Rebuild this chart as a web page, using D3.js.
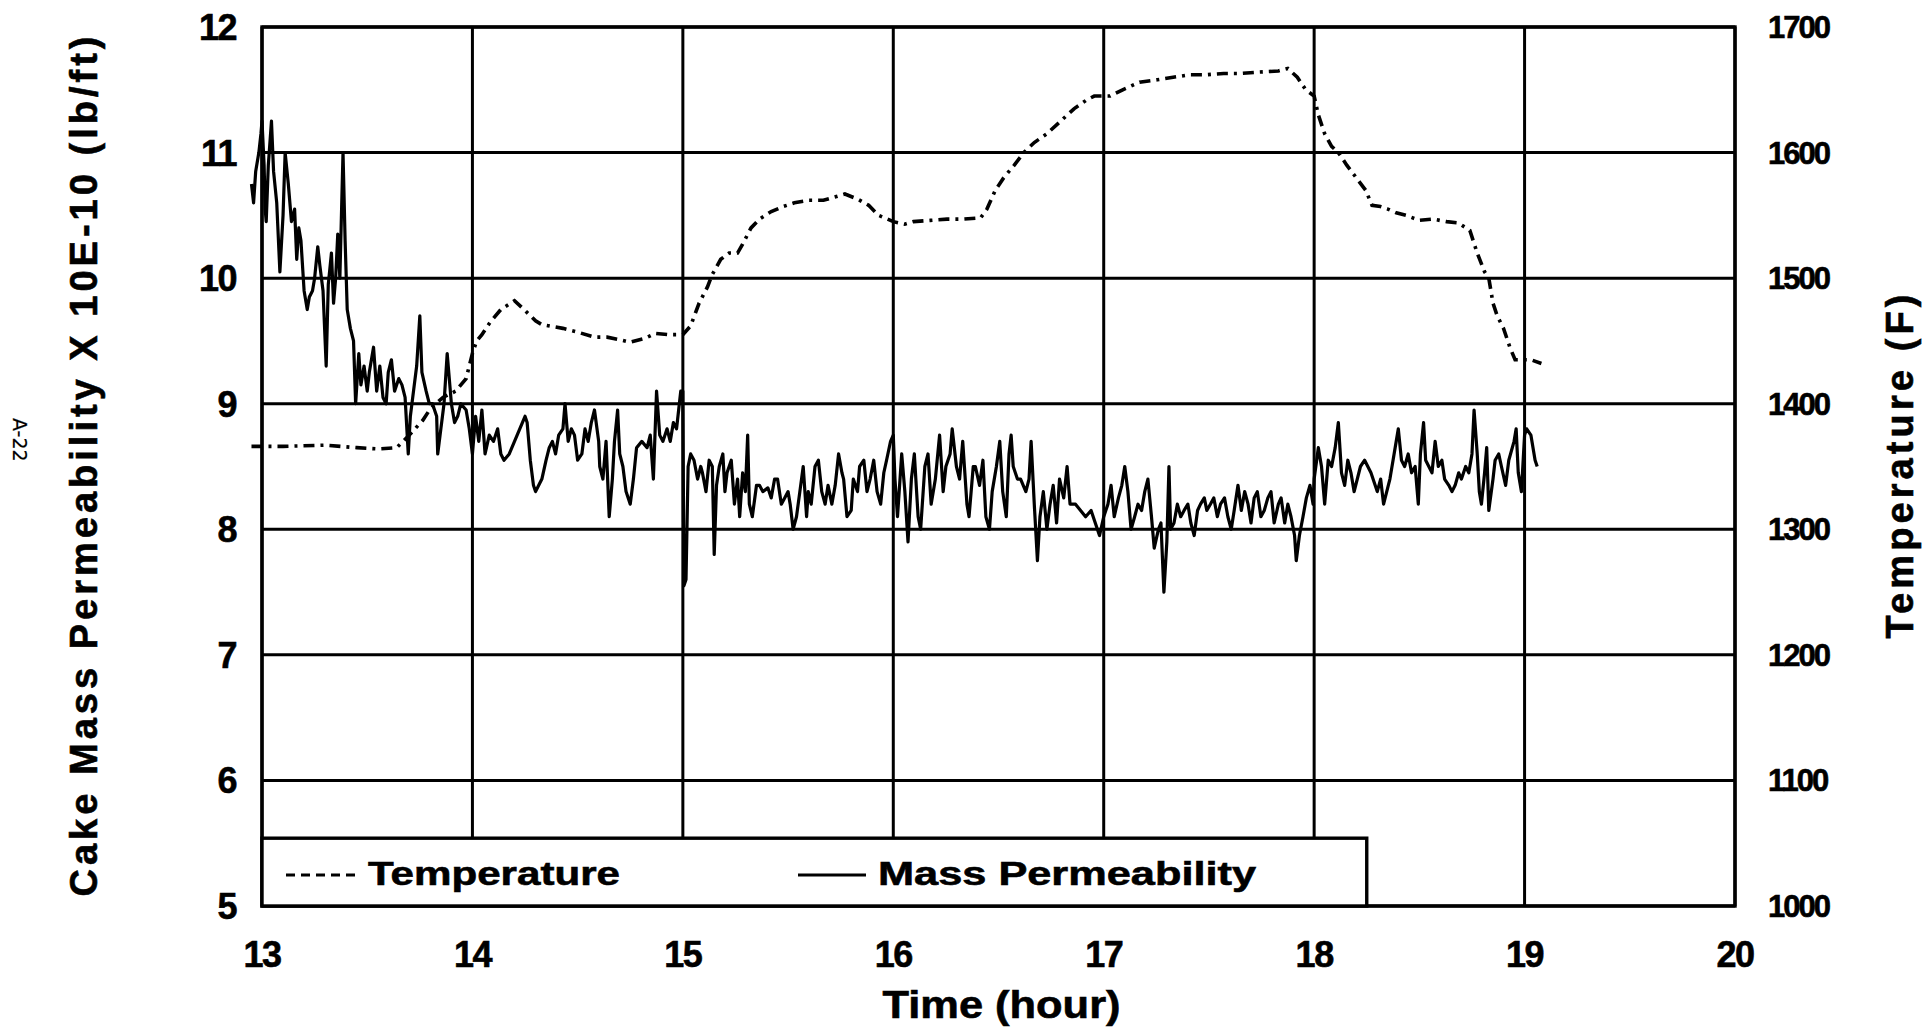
<!DOCTYPE html>
<html>
<head>
<meta charset="utf-8">
<script src="https://cdn.jsdelivr.net/npm/d3@7"></script>
<style>
    body { margin: 0; background: #fff; }
    text { font-family: "Liberation Sans", Arial, sans-serif; font-weight: bold; fill: #000; stroke: #000; stroke-width: 0.6px; }
</style>
</head>
<body>
<div id="chart"></div>
<script>
// axis ticks
var hourTicks = [13, 14, 15, 16, 17, 18, 19, 20];
var permTicks = [5, 6, 7, 8, 9, 10, 11, 12];
var tempTicks = [1000, 1100, 1200, 1300, 1400, 1500, 1600, 1700];

// temperature (F) vs time (hour)
var tempData = [
    [12.95, 1366], [13.1, 1366], [13.3, 1367], [13.45, 1365], [13.55, 1364], [13.64, 1365],
    [13.7, 1375], [13.765, 1387], [13.8, 1396], [13.86, 1405], [13.92, 1410], [13.97, 1420],
    [14.0, 1440], [14.02, 1450], [14.045, 1455], [14.085, 1465], [14.135, 1475], [14.2, 1482],
    [14.245, 1475], [14.3, 1466], [14.33, 1463], [14.43, 1460], [14.5, 1457], [14.58, 1453],
    [14.64, 1453], [14.7, 1451], [14.75, 1449], [14.82, 1452], [14.87, 1456], [14.93, 1455],
    [15.0, 1455], [15.037, 1462], [15.077, 1480], [15.117, 1493], [15.14, 1503], [15.18, 1515],
    [15.22, 1520], [15.26, 1520], [15.284, 1527], [15.324, 1540], [15.364, 1547], [15.42, 1553],
    [15.476, 1557], [15.53, 1560], [15.6, 1562], [15.668, 1562], [15.73, 1565], [15.77, 1567],
    [15.83, 1563], [15.883, 1558], [15.93, 1550], [16.0, 1545], [16.055, 1543], [16.095, 1545],
    [16.175, 1546], [16.255, 1547], [16.335, 1547], [16.415, 1548], [16.445, 1555], [16.485, 1570],
    [16.525, 1580], [16.575, 1590], [16.62, 1600], [16.67, 1608], [16.73, 1615], [16.795, 1625],
    [16.86, 1635], [16.92, 1642], [16.955, 1645], [17.0, 1645], [17.03, 1645], [17.09, 1650],
    [17.17, 1656], [17.255, 1658], [17.33, 1660], [17.41, 1662], [17.49, 1662], [17.57, 1663],
    [17.65, 1663], [17.73, 1664], [17.83, 1665], [17.875, 1667], [17.92, 1660], [17.96, 1650],
    [18.0, 1645], [18.02, 1630], [18.05, 1615], [18.083, 1605], [18.115, 1600], [18.155, 1590],
    [18.2, 1580], [18.245, 1570], [18.275, 1558], [18.315, 1557], [18.35, 1555], [18.39, 1552],
    [18.436, 1550], [18.5, 1546], [18.565, 1547], [18.63, 1545], [18.685, 1544], [18.74, 1538],
    [18.775, 1520], [18.81, 1505], [18.83, 1500], [18.85, 1480], [18.87, 1470], [18.9, 1460],
    [18.93, 1445], [18.955, 1435], [18.99, 1435], [19.03, 1435], [19.08, 1432]
];

// cake mass permeability (x 10E-10 lb/ft) vs time (hour)
var permData = [
    [12.95, 10.75], [12.96, 10.6], [12.97, 10.85], [12.985, 11.0], [12.995, 11.15], [13.0, 11.25],
    [13.01, 10.9], [13.015, 10.55], [13.02, 10.45], [13.03, 10.9], [13.045, 11.25], [13.055, 10.85],
    [13.07, 10.6], [13.085, 10.05], [13.1, 10.5], [13.11, 11.0], [13.125, 10.75], [13.14, 10.45],
    [13.155, 10.55], [13.165, 10.15], [13.175, 10.4], [13.185, 10.3], [13.2, 9.9], [13.215, 9.75],
    [13.225, 9.85], [13.24, 9.9], [13.25, 10.0], [13.265, 10.25], [13.275, 10.1], [13.29, 9.9],
    [13.305, 9.3], [13.315, 9.95], [13.33, 10.2], [13.34, 9.8], [13.35, 10.0], [13.36, 10.35],
    [13.37, 10.0], [13.385, 11.0], [13.395, 10.3], [13.405, 9.75], [13.42, 9.6], [13.435, 9.5],
    [13.445, 9.0], [13.46, 9.4], [13.47, 9.15], [13.485, 9.3], [13.5, 9.1], [13.51, 9.25],
    [13.53, 9.45], [13.545, 9.1], [13.56, 9.3], [13.575, 9.05], [13.59, 9.0], [13.6, 9.25],
    [13.615, 9.35], [13.63, 9.1], [13.65, 9.2], [13.665, 9.15], [13.68, 9.05], [13.695, 8.6],
    [13.705, 8.9], [13.72, 9.1], [13.735, 9.3], [13.75, 9.7], [13.76, 9.25], [13.78, 9.1],
    [13.795, 9.0], [13.81, 9.0], [13.83, 8.9], [13.835, 8.6], [13.85, 8.8], [13.865, 9.0],
    [13.88, 9.4], [13.9, 9.0], [13.915, 8.85], [13.93, 8.9], [13.945, 9.0], [13.97, 8.95],
    [13.985, 8.8], [14.0, 8.6], [14.015, 8.9], [14.03, 8.7], [14.045, 8.95], [14.06, 8.6],
    [14.08, 8.75], [14.1, 8.7], [14.12, 8.8], [14.135, 8.6], [14.15, 8.55], [14.175, 8.6],
    [14.2, 8.7], [14.225, 8.8], [14.25, 8.9], [14.26, 8.85], [14.275, 8.55], [14.29, 8.35],
    [14.3, 8.3], [14.315, 8.35], [14.33, 8.4], [14.35, 8.55], [14.365, 8.65], [14.38, 8.7],
    [14.395, 8.6], [14.41, 8.75], [14.43, 8.8], [14.44, 9.0], [14.455, 8.7], [14.47, 8.8],
    [14.485, 8.75], [14.5, 8.55], [14.52, 8.6], [14.535, 8.8], [14.55, 8.7], [14.565, 8.85],
    [14.58, 8.95], [14.6, 8.7], [14.605, 8.5], [14.62, 8.4], [14.635, 8.7], [14.65, 8.1],
    [14.665, 8.4], [14.675, 8.7], [14.69, 8.95], [14.7, 8.6], [14.715, 8.5], [14.73, 8.3],
    [14.75, 8.2], [14.765, 8.4], [14.78, 8.65], [14.805, 8.7], [14.83, 8.65], [14.845, 8.75],
    [14.86, 8.4], [14.875, 9.1], [14.89, 8.75], [14.905, 8.7], [14.925, 8.8], [14.94, 8.7],
    [14.955, 8.85], [14.97, 8.8], [14.98, 8.95], [14.99, 9.1], [15.0, 9.1], [15.005, 7.55],
    [15.015, 7.6], [15.025, 8.5], [15.037, 8.6], [15.053, 8.55], [15.07, 8.4], [15.085, 8.5],
    [15.093, 8.45], [15.11, 8.3], [15.125, 8.55], [15.14, 8.5], [15.149, 7.8], [15.16, 8.35],
    [15.173, 8.5], [15.19, 8.6], [15.2, 8.3], [15.21, 8.45], [15.23, 8.55], [15.245, 8.2],
    [15.26, 8.4], [15.27, 8.1], [15.284, 8.45], [15.297, 8.3], [15.308, 8.75], [15.316, 8.2],
    [15.33, 8.1], [15.35, 8.35], [15.364, 8.35], [15.38, 8.3], [15.404, 8.33], [15.42, 8.25],
    [15.436, 8.4], [15.45, 8.4], [15.468, 8.2], [15.484, 8.25], [15.5, 8.3], [15.51, 8.2],
    [15.524, 8.0], [15.54, 8.1], [15.556, 8.3], [15.572, 8.5], [15.588, 8.1], [15.596, 8.3],
    [15.61, 8.2], [15.628, 8.5], [15.644, 8.55], [15.66, 8.3], [15.676, 8.2], [15.69, 8.35],
    [15.708, 8.2], [15.724, 8.35], [15.74, 8.6], [15.756, 8.45], [15.764, 8.4], [15.78, 8.1],
    [15.8, 8.15], [15.81, 8.4], [15.83, 8.3], [15.84, 8.5], [15.86, 8.55], [15.875, 8.3],
    [15.89, 8.4], [15.907, 8.55], [15.923, 8.3], [15.94, 8.2], [15.955, 8.45], [15.968, 8.55],
    [15.987, 8.7], [16.0, 8.75], [16.008, 8.4], [16.02, 8.1], [16.04, 8.6], [16.055, 8.3],
    [16.07, 7.9], [16.086, 8.4], [16.1, 8.6], [16.118, 8.1], [16.13, 8.0], [16.15, 8.5],
    [16.165, 8.6], [16.18, 8.2], [16.2, 8.4], [16.22, 8.75], [16.237, 8.3], [16.25, 8.5],
    [16.27, 8.6], [16.28, 8.8], [16.3, 8.5], [16.315, 8.4], [16.33, 8.7], [16.35, 8.2],
    [16.36, 8.1], [16.38, 8.5], [16.39, 8.5], [16.41, 8.35], [16.426, 8.55], [16.44, 8.1],
    [16.457, 8.0], [16.47, 8.3], [16.49, 8.5], [16.506, 8.7], [16.52, 8.3], [16.537, 8.1],
    [16.55, 8.6], [16.56, 8.75], [16.57, 8.5], [16.59, 8.4], [16.605, 8.4], [16.63, 8.3],
    [16.645, 8.4], [16.655, 8.7], [16.67, 8.2], [16.685, 7.75], [16.697, 8.1], [16.713, 8.3],
    [16.73, 8.0], [16.745, 8.2], [16.76, 8.35], [16.776, 8.05], [16.79, 8.4], [16.81, 8.25],
    [16.826, 8.5], [16.84, 8.2], [16.866, 8.2], [16.89, 8.15], [16.914, 8.1], [16.94, 8.15],
    [16.96, 8.05], [16.98, 7.95], [17.0, 8.1], [17.02, 8.2], [17.035, 8.35], [17.05, 8.1],
    [17.07, 8.25], [17.086, 8.35], [17.1, 8.5], [17.115, 8.3], [17.13, 8.0], [17.147, 8.1],
    [17.163, 8.2], [17.18, 8.15], [17.195, 8.3], [17.21, 8.4], [17.227, 8.1], [17.24, 7.85],
    [17.26, 8.0], [17.272, 8.05], [17.286, 7.5], [17.3, 7.9], [17.31, 8.5], [17.318, 8.0],
    [17.334, 8.05], [17.35, 8.2], [17.366, 8.1], [17.382, 8.15], [17.4, 8.2], [17.414, 8.05],
    [17.43, 7.95], [17.446, 8.15], [17.46, 8.2], [17.478, 8.25], [17.49, 8.15], [17.507, 8.2],
    [17.523, 8.25], [17.54, 8.1], [17.555, 8.2], [17.574, 8.25], [17.59, 8.1], [17.606, 8.0],
    [17.62, 8.15], [17.638, 8.35], [17.654, 8.15], [17.67, 8.3], [17.686, 8.2], [17.7, 8.05],
    [17.715, 8.25], [17.73, 8.3], [17.747, 8.1], [17.763, 8.15], [17.78, 8.25], [17.795, 8.3],
    [17.81, 8.05], [17.83, 8.2], [17.843, 8.25], [17.86, 8.05], [17.875, 8.2], [17.89, 8.1],
    [17.907, 7.95], [17.915, 7.75], [17.93, 7.95], [17.947, 8.1], [17.963, 8.25], [17.98, 8.35],
    [17.995, 8.2], [18.0, 8.4], [18.02, 8.65], [18.035, 8.5], [18.05, 8.2], [18.067, 8.55],
    [18.083, 8.5], [18.1, 8.65], [18.115, 8.85], [18.13, 8.45], [18.145, 8.35], [18.16, 8.55],
    [18.175, 8.45], [18.19, 8.3], [18.22, 8.5], [18.24, 8.55], [18.255, 8.5], [18.27, 8.45],
    [18.29, 8.35], [18.3, 8.3], [18.316, 8.4], [18.33, 8.2], [18.36, 8.4], [18.375, 8.55],
    [18.39, 8.7], [18.4, 8.8], [18.415, 8.55], [18.43, 8.5], [18.447, 8.6], [18.463, 8.45],
    [18.48, 8.5], [18.495, 8.2], [18.505, 8.6], [18.52, 8.85], [18.53, 8.55], [18.545, 8.5],
    [18.56, 8.45], [18.575, 8.7], [18.59, 8.5], [18.607, 8.55], [18.62, 8.4], [18.64, 8.35],
    [18.655, 8.3], [18.67, 8.35], [18.687, 8.45], [18.7, 8.4], [18.72, 8.5], [18.735, 8.45],
    [18.75, 8.6], [18.76, 8.95], [18.775, 8.6], [18.785, 8.3], [18.795, 8.2], [18.81, 8.45],
    [18.82, 8.65], [18.83, 8.15], [18.85, 8.4], [18.86, 8.55], [18.877, 8.6], [18.89, 8.5],
    [18.91, 8.35], [18.925, 8.55], [18.95, 8.7], [18.96, 8.8], [18.97, 8.45], [18.985, 8.3],
    [19.0, 8.75], [19.01, 8.8], [19.03, 8.75], [19.05, 8.55], [19.06, 8.5]
];

var margin = { top: 27, right: 190, bottom: 123, left: 262 };
var width = 1925 - margin.left - margin.right,
    height = 1029 - margin.top - margin.bottom;

var svg = d3.select('#chart')
    .append('svg')
    .attr('width', 1925)
    .attr('height', 1029)
    .style('background', '#fff');

var g = svg.append('g')
    .attr('transform', "translate(" + margin.left + "," + margin.top + ")");

var xScale = d3.scaleLinear().domain([13, 20]).range([0, width]);
var yScale = d3.scaleLinear().domain([5, 12]).range([height, 0]);
var yTemp = d3.scaleLinear().domain([1000, 1700]).range([height, 0]);

// grid
g.selectAll('.vgrid')
    .data(hourTicks)
    .enter()
    .append('line')
    .attr('class', 'vgrid')
    .attr('x1', function(d) { return xScale(d); })
    .attr('x2', function(d) { return xScale(d); })
    .attr('y1', 0)
    .attr('y2', height)
    .attr('stroke', '#000')
    .attr('stroke-width', 3);

g.selectAll('.hgrid')
    .data(permTicks)
    .enter()
    .append('line')
    .attr('class', 'hgrid')
    .attr('x1', 0)
    .attr('x2', width)
    .attr('y1', function(d) { return yScale(d); })
    .attr('y2', function(d) { return yScale(d); })
    .attr('stroke', '#000')
    .attr('stroke-width', 3);

g.append('rect')
    .attr('width', width)
    .attr('height', height)
    .attr('fill', 'none')
    .attr('stroke', '#000')
    .attr('stroke-width', 3.4);

// tick labels
g.selectAll('.xlab')
    .data(hourTicks)
    .enter()
    .append('text')
    .attr('class', 'xlab')
    .attr('x', function(d) { return xScale(d); })
    .attr('y', height + 61)
    .attr('text-anchor', 'middle')
    .style('font-size', '36px')
    .style('letter-spacing', '-1.5px')
    .text(function(d) { return d; });

g.selectAll('.ylab')
    .data(permTicks)
    .enter()
    .append('text')
    .attr('class', 'ylab')
    .attr('x', -26)
    .attr('y', function(d) { return yScale(d) + 13; })
    .attr('text-anchor', 'end')
    .style('font-size', '36px')
    .style('letter-spacing', '-1.5px')
    .text(function(d) { return d; });

g.selectAll('.tlab')
    .data(tempTicks)
    .enter()
    .append('text')
    .attr('class', 'tlab')
    .attr('x', width + 33)
    .attr('y', function(d) { return yTemp(d) + 11; })
    .attr('text-anchor', 'start')
    .style('font-size', '31px')
    .style('letter-spacing', '-2px')
    .text(function(d) { return d; });

// axis titles
g.append('text')
    .attr('text-anchor', 'middle')
    .attr('transform', "translate(" + (xScale(16.5) + 3) + "," + (height + 112) + ")")
    .style('font-size', '38px')
    .attr('textLength', 238)
    .attr('lengthAdjust', 'spacingAndGlyphs')
    .text('Time (hour)');

g.append('text')
    .attr('text-anchor', 'middle')
    .attr('transform', "translate(" + (-165) + "," + (height / 2) + ")rotate(-90)")
    .style('font-size', '38px')
    .attr('textLength', 860)
    .attr('lengthAdjust', 'spacing')
    .text('Cake Mass Permeability X 10E-10 (lb/ft)');

g.append('text')
    .attr('text-anchor', 'middle')
    .attr('transform', "translate(" + (width + 178) + "," + (height / 2) + ")rotate(-90)")
    .style('font-size', '38px')
    .attr('textLength', 344)
    .attr('lengthAdjust', 'spacing')
    .text('Temperature (F)');

svg.append('text')
    .attr('transform', "translate(13,418)rotate(90)")
    .style('font-family', '"DejaVu Sans", sans-serif')
    .style('font-weight', 'normal')
    .style('stroke-width', '0.2px')
    .style('font-size', '19px')
    .text('A-22');

// legend box
var legend = g.append('g').attr('class', 'legend');
legend.append('rect')
    .attr('x', xScale(13))
    .attr('y', yScale(5.54))
    .attr('width', xScale(18.25) - xScale(13))
    .attr('height', yScale(5) - yScale(5.54))
    .attr('fill', '#fff')
    .attr('stroke', '#000')
    .attr('stroke-width', 3.4);

var legY = yScale(5.27);
legend.append('line')
    .attr('x1', 24).attr('x2', 94)
    .attr('y1', legY + 3).attr('y2', legY + 3)
    .attr('stroke', '#000')
    .attr('stroke-width', 3)
    .attr('stroke-dasharray', '9,6');
legend.append('text')
    .attr('x', 106)
    .attr('y', legY + 13)
    .style('font-size', '34px')
    .attr('textLength', 252)
    .attr('lengthAdjust', 'spacingAndGlyphs')
    .text('Temperature');
legend.append('line')
    .attr('x1', 536).attr('x2', 604)
    .attr('y1', legY + 3).attr('y2', legY + 3)
    .attr('stroke', '#000')
    .attr('stroke-width', 3);
legend.append('text')
    .attr('x', 616)
    .attr('y', legY + 13)
    .style('font-size', '34px')
    .attr('textLength', 378)
    .attr('lengthAdjust', 'spacingAndGlyphs')
    .text('Mass Permeability');

// data lines
var tempLine = d3.line()
    .x(function(d) { return xScale(d[0]); })
    .y(function(d) { return yTemp(d[1]); });

var permLine = d3.line()
    .x(function(d) { return xScale(d[0]); })
    .y(function(d) { return yScale(d[1]); });

g.append('path')
    .datum(tempData)
    .attr('d', tempLine)
    .attr('fill', 'none')
    .attr('stroke', '#000')
    .attr('stroke-width', 3.6)
    .attr('stroke-dasharray', '11,6,3,6');

g.append('path')
    .datum(permData)
    .attr('d', permLine)
    .attr('fill', 'none')
    .attr('stroke', '#000')
    .attr('stroke-width', 3.2)
    .attr('stroke-linejoin', 'round');
</script>
</body>
</html>
